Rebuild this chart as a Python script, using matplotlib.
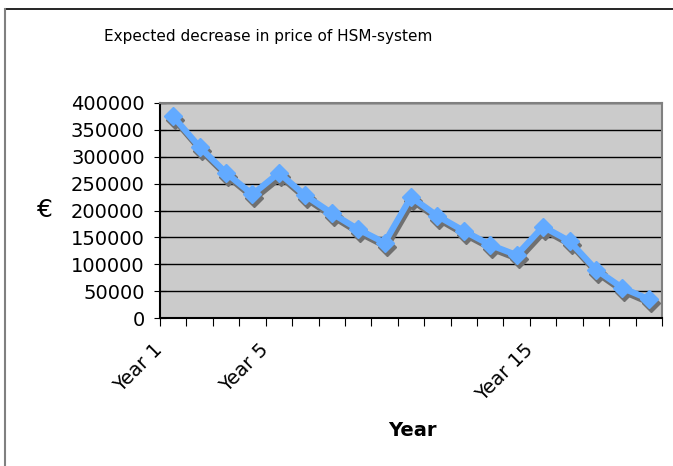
import numpy as np
import matplotlib.pyplot as plt
import matplotlib.transforms as mtransforms
from matplotlib.lines import Line2D

# data
years = [f"Year {i}" for i in range(1, 20)]
shown_years = ["Year 1", "Year 5", "Year 15"]
price = [375000, 318000, 270000, 230000, 270000, 228000, 195000, 165000, 140000,
         225000, 190000, 162000, 136000, 117000, 170000, 143000, 90000, 56000, 35000]

fig = plt.figure(figsize=(6.73, 4.66), dpi=100)
ax = fig.add_axes([160 / 673, 1 - 318 / 466, 502 / 673, 215 / 466])
ax.set_facecolor('#cbcbcb')

x = np.arange(len(years))

# shadow line, shifted a few pixels right/down
shadow = mtransforms.offset_copy(ax.transData, fig=fig, x=2, y=-4, units='dots')
ax.plot(x, price, color='#707070', lw=4.5, marker='D', markersize=9.5,
        transform=shadow, zorder=3, clip_on=False)
ax.plot(x, price, color='#62aaff', lw=4.5, marker='D', markersize=9.5,
        zorder=4, clip_on=False)

ax.set_xlim(-0.5, len(years) - 0.5)
ax.set_ylim(0, 400000)
ax.set_yticks(np.arange(0, 400001, 50000))
ax.yaxis.grid(True, color='black', lw=1)
ax.set_axisbelow(True)

# tick marks between categories, labels only on some years
ax.set_xticks(np.arange(-0.5, len(years), 1))
ax.set_xticklabels([])
pos = [years.index(y) for y in shown_years]
ax.set_xticks(pos, shown_years, minor=True)
ax.tick_params(axis='x', which='major', direction='out', length=6, color='black')
ax.tick_params(axis='x', which='minor', length=0, pad=16, labelsize=14)
shift = mtransforms.ScaledTranslation(-0.2, 0, fig.dpi_scale_trans)
for lbl in ax.get_xticklabels(minor=True):
    lbl.set_rotation(45)
    lbl.set_ha('right')
    lbl.set_va('top')
    lbl.set_rotation_mode('anchor')
    lbl.set_transform(lbl.get_transform() + shift)

ax.tick_params(axis='y', direction='inout', length=8, labelsize=14, pad=7)

ax.spines['left'].set_color('black')
ax.spines['bottom'].set_color('black')
ax.spines['top'].set_color('#808080')
ax.spines['right'].set_color('#808080')
for s in ax.spines.values():
    s.set_linewidth(1.5)

fig.text(268 / 673, 1 - 37 / 466, "Expected decrease in price of HSM-system",
         ha='center', va='center', fontsize=11)
fig.text(45 / 673, 1 - 210 / 466, "€", ha='center', va='center', fontsize=18)
fig.text(412 / 673, 1 - 430 / 466, "Year", ha='center', va='center',
         fontsize=14, fontweight='bold')

# outer chart border (top and left visible)
fig.add_artist(Line2D([5 / 673, 1], [1 - 9 / 466, 1 - 9 / 466], color='black', lw=1.2))
fig.add_artist(Line2D([5 / 673, 5 / 673], [0, 1 - 9 / 466], color='#808080', lw=1.5))

fig.savefig("out.png", dpi=100)
